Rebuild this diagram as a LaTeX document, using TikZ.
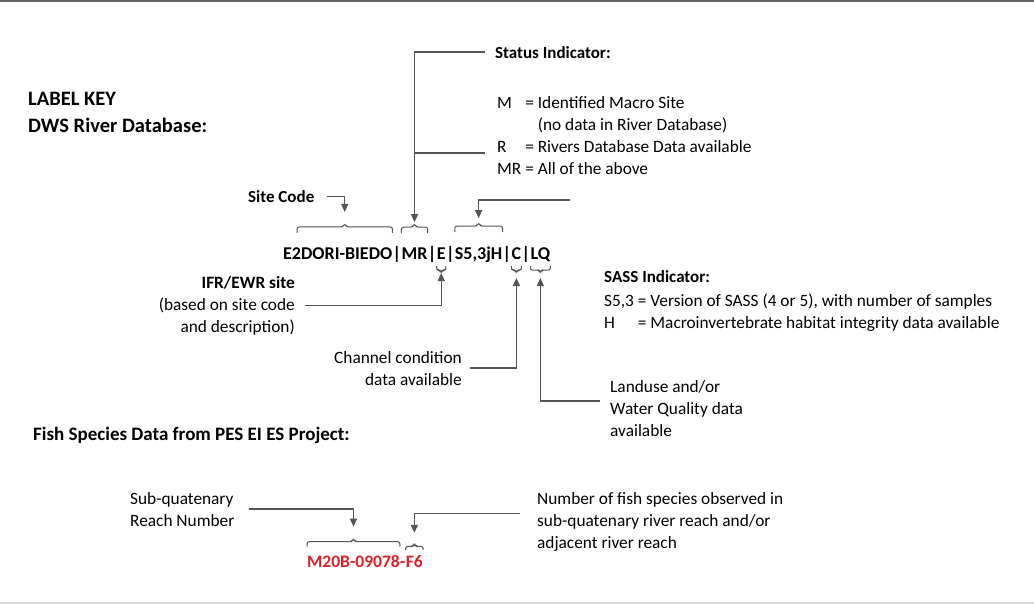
\documentclass[tikz,border=0pt]{standalone}
\usepackage{fontspec}
\setmainfont{Carlito}
\usetikzlibrary{arrows.meta,positioning,calc}
\definecolor{leadgray}{RGB}{85,85,85}
\definecolor{codered}{RGB}{218,32,40}

\begin{document}
\begin{tikzpicture}[x=1pt,y=-1pt,
    body/.style={font=\fontsize{17.3}{22}\selectfont, inner sep=0pt, align=left},
    tag/.style={font=\fontsize{17}{22}\selectfont\bfseries, inner sep=0pt},
    head/.style={font=\fontsize{20.5}{27}\selectfont\bfseries, inner sep=0pt, align=left},
    code/.style={font=\fontsize{18}{22}\selectfont\bfseries, inner sep=0pt, anchor=base west},
    redcode/.style={code, text=codered, font=\fontsize{17.5}{22}\selectfont\bfseries},
    lead/.style={draw=leadgray, line width=1.2pt},
    arrowend/.style={-{Triangle[length=8pt,width=7pt]}},
    bkt/.style={to path={-- ++(0pt,#1)
        -- ($(\tikztostart)!0.5!(\tikztotarget)+(-1.5pt,#1)$)
        -- ($(\tikztostart)!0.5!(\tikztotarget)+(0pt,{1.6*#1})$)
        -- ($(\tikztostart)!0.5!(\tikztotarget)+(1.5pt,#1)$)
        -- ($(\tikztotarget)+(0pt,#1)$) -- (\tikztotarget)}},
    bktline/.style={draw=leadgray, line width=1pt, rounded corners=2pt}]
  \useasboundingbox (0,0) rectangle (1034,605);

  % Frame
  \draw[black!60, line width=2pt] (0,1) -- (1034,1);
  \draw[black!15, line width=2pt] (0,603) -- (1034,603);

  % Headings
  \node[head, anchor=base west] (key) at (28,132) {LABEL KEY\\DWS River Database:};
  \node[head, font=\fontsize{19}{24}\selectfont\bfseries, anchor=base west] (fishhd) at (33,440) {Fish Species Data from PES EI ES Project:};

  % Site label
  \node[code] (sc) at (283,259) {E2DORI-BIEDO};
  \node[code, right=0pt of sc.base east, anchor=base west] (b1) {|};
  \node[code, right=0pt of b1.base east, anchor=base west] (mr) {MR};
  \node[code, right=0pt of mr.base east, anchor=base west] (b2) {|};
  \node[code, right=0pt of b2.base east, anchor=base west] (ifr) {E};
  \node[code, right=0pt of ifr.base east, anchor=base west] (b3) {|};
  \node[code, right=0pt of b3.base east, anchor=base west] (sass) {S5,3jH};
  \node[code, right=0pt of sass.base east, anchor=base west] (b4) {|};
  \node[code, right=0pt of b4.base east, anchor=base west] (cc) {C};
  \node[code, right=0pt of cc.base east, anchor=base west] (b5) {|};
  \node[code, right=0pt of b5.base east, anchor=base west] (lq) {LQ};

  % Texts
  \node[tag, anchor=base west] (site) at (248,202) {Site Code};
  \node[tag, anchor=base west] (status) at (495,58) {Status Indicator:};
  \node[body, anchor=base west] (stat) at (497,108) {\begin{tabular}[t]{@{}l@{ }l@{}}
      M & = Identified Macro Site\\
        & \phantom{= }(no data in River Database)\\
      R & = Rivers Database Data available\\
      MR & = All of the above
    \end{tabular}};
  \node[body, align=right, anchor=base east] (ifrtxt) at (295,332) {\textbf{IFR/EWR site}\\(based on site code\\and description)};
  \node[body, align=right, anchor=base east] (chan) at (462,385) {Channel condition\\data available};
  \node[tag, anchor=base west] (sasshd) at (604,282) {SASS Indicator:};
  \node[body, anchor=base west] (sasstab) at (604,306) {\begin{tabular}[t]{@{}l@{ }l@{}}
      S5,3 & = Version of SASS (4 or 5), with number of samples\\
      H & = Macroinvertebrate habitat integrity data available
    \end{tabular}};
  \node[body, anchor=base west] (landuse) at (610,436) {Landuse and/or\\Water Quality data\\available};

  % Brackets
  \draw[bktline] ([shift={(14pt,14pt)}]sc.north west) to[bkt=6pt] ([yshift=14pt]sc.north east);
  \draw[bktline] ([yshift=14pt]mr.north west) to[bkt=6pt] ([yshift=14pt]mr.north east);
  \draw[bktline] ([yshift=14pt]sass.north west) to[bkt=6pt] ([yshift=14pt]sass.north east);
  \draw[bktline] ([yshift=-7pt]ifr.base west) to[bkt=-4pt] ([yshift=-7pt]ifr.base east);
  \draw[bktline] ([yshift=-7pt]cc.base west) to[bkt=-4pt] ([yshift=-7pt]cc.base east);
  \draw[bktline] ([yshift=-7pt]lq.base west) to[bkt=-4pt] ([yshift=-7pt]lq.base east);

  % Connectors
  \coordinate (scmid) at ([xshift=7pt]sc.north);
  \coordinate (rfree) at (485,153);
  \coordinate (sassfree) at (570,200);
  \draw[lead, arrowend] ([xshift=12pt]site.east) -| ([yshift=35pt]scmid);
  \draw[lead, arrowend] ([xshift=-10pt]status.west) -| ([yshift=25pt]mr.north);
  \draw[lead] (rfree) -- (rfree -| mr.north);
  \draw[lead, arrowend] (sassfree) -| ([yshift=28pt]sass.north);
  \draw[lead, arrowend] ([xshift=10pt]ifrtxt.east) -| ([yshift=-14pt]ifr.base);
  \draw[lead, arrowend] ([xshift=8pt]chan.east) -| ([yshift=-19pt]cc.base);
  \draw[lead, arrowend] ([shift={(-10pt,7pt)}]landuse.west) -| ([yshift=-19pt]lq.base);

  % Fish species label
  \node[redcode] (reach) at (307,567) {M20B-09078};
  \node[redcode, right=0pt of reach.base east, anchor=base west] (hy) {-};
  \node[redcode, right=0pt of hy.base east, anchor=base west] (nfs) {F6};
  \node[body, anchor=base west] (subq) at (130,526) {Sub-quatenary\\Reach Number};
  \node[body, anchor=base west] (numfish) at (537,548) {Number of fish species observed in\\sub-quatenary river reach and/or\\adjacent river reach};

  \draw[bktline] ([yshift=8pt]reach.north west) to[bkt=5pt] ([yshift=8pt]reach.north east);
  \draw[bktline] ([yshift=5pt]nfs.north west) to[bkt=3.5pt] ([yshift=5pt]nfs.north east);
  \draw[lead, arrowend] ([xshift=14pt]subq.east) -| ([yshift=28pt]reach.north);
  \draw[lead, arrowend] ([shift={(-17pt,8pt)}]numfish.west) -| ([yshift=22pt]nfs.north);
\end{tikzpicture}
\end{document}
